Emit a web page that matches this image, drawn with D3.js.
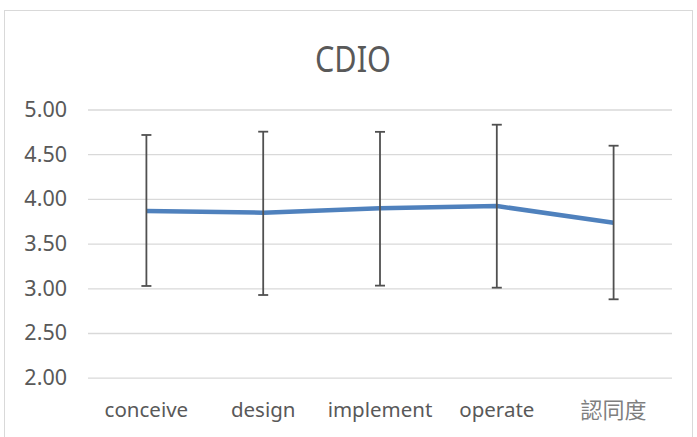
<!DOCTYPE html>
<html>
<head>
<meta charset="utf-8">
<script src="https://cdn.jsdelivr.net/npm/d3@7"></script>
<style>
  body { margin: 0; background: #fff; }
  text { font-family: "Noto Sans", sans-serif; fill: #595959; }
</style>
</head>
<body>
<svg id="chart"></svg>
<script>
const categories = ['conceive', 'design', 'implement', 'operate', '認同度'];
const means = [3.865, 3.846, 3.895, 3.92, 3.734];
const upper = [4.715, 4.752, 4.75, 4.83, 4.595];
const lower = [3.026, 2.925, 3.03, 3.007, 2.877];
const yTicks = [2.0, 2.5, 3.0, 3.5, 4.0, 4.5, 5.0];

const width = 697, height = 437;
const margin = { top: 109.5, left: 88, bottom: 59.3, right: 25 };
const iwidth = width - margin.left - margin.right;
const iheight = height - margin.top - margin.bottom;

const data = categories.map((c, i) => ({ name: c, mean: means[i], hi: upper[i], lo: lower[i] }));

const svg = d3.select('#chart').attr('width', width).attr('height', height);

// chart frame
svg.append('rect')
  .attr('x', 4.5).attr('y', 10.5)
  .attr('width', 688).attr('height', 440)
  .attr('fill', 'none').attr('stroke', '#d9d9d9');

svg.append('text')
  .attr('x', 353).attr('y', 71.5)
  .attr('text-anchor', 'middle')
  .attr('font-size', 37)
  .attr('textLength', 76).attr('lengthAdjust', 'spacingAndGlyphs')
  .text('CDIO');

const g = svg.append('g').attr('transform', `translate(${margin.left},${margin.top})`);

const y = d3.scaleLinear().domain([2, 5]).range([iheight, 0]);
const x = d3.scaleBand().domain(categories).range([0, iwidth]);

// gridlines + y labels
const yAxis = g.append('g')
  .call(d3.axisLeft(y).tickValues(yTicks).tickSize(-iwidth).tickPadding(21).tickFormat(d3.format('.2f')));
yAxis.select('.domain').remove();
yAxis.selectAll('.tick line').attr('stroke', '#d9d9d9').attr('stroke-width', 1.3);
yAxis.selectAll('.tick text').attr('font-size', 21.5).style('fill', '#595959');

// x labels
const xAxis = g.append('g')
  .attr('transform', `translate(0,${iheight})`)
  .call(d3.axisBottom(x).tickSize(0).tickPadding(25));
xAxis.select('.domain').remove();
xAxis.selectAll('.tick text').attr('font-size', 20.5).style('fill', '#595959')
  .filter(d => d === '認同度').style('font-family', '"Noto Sans CJK TC", sans-serif').attr('font-size', 22).style('fill', '#7f7f7f');

const cx = d => x(d.name) + x.bandwidth() / 2;

// line
g.append('path')
  .datum(data)
  .attr('fill', 'none')
  .attr('stroke', '#4f81bd')
  .attr('stroke-width', 4.5)
  .attr('stroke-linejoin', 'round')
  .attr('d', d3.line().x(cx).y(d => y(d.mean)));

// error bars
const eb = g.selectAll('.err').data(data).enter().append('g').attr('class', 'err')
  .attr('stroke', '#505050').attr('stroke-width', 1.8);
eb.append('line').attr('x1', cx).attr('x2', cx).attr('y1', d => y(d.hi)).attr('y2', d => y(d.lo));
eb.append('line').attr('x1', d => cx(d) - 5).attr('x2', d => cx(d) + 5).attr('y1', d => y(d.hi)).attr('y2', d => y(d.hi));
eb.append('line').attr('x1', d => cx(d) - 5).attr('x2', d => cx(d) + 5).attr('y1', d => y(d.lo)).attr('y2', d => y(d.lo));
</script>
</body>
</html>
